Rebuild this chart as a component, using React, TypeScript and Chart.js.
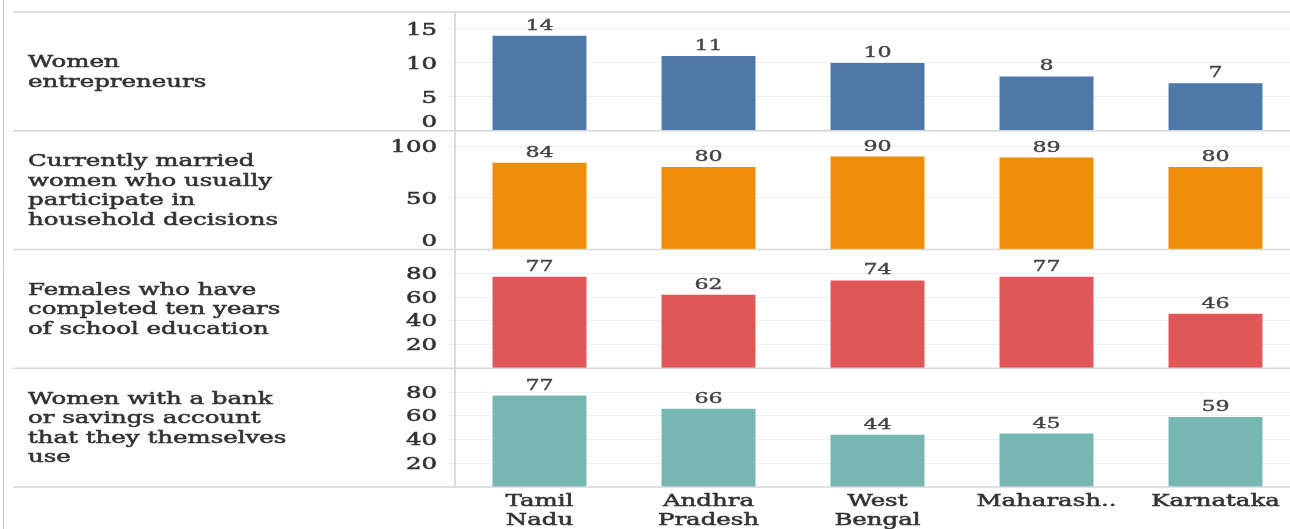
import React, { useEffect, useRef } from "react";
import { Chart, registerables } from "chart.js";
Chart.register(...registerables);

const categories = [["Tamil", "Nadu"], ["Andhra", "Pradesh"], ["West", "Bengal"], ["Maharash.."], ["Karnataka"]];
const rowTitles = [
  ["Women", "entrepreneurs"],
  ["Currently married", "women who usually", "participate in", "household decisions"],
  ["Females who have", "completed ten years", "of school education"],
  ["Women with a bank", "or savings account", "that they themselves", "use"],
];
const womenEntrepreneurs = [14, 11, 10, 8, 7];
const householdDecisions = [84, 80, 90, 89, 80];
const tenYearsSchooling = [77, 62, 74, 77, 46];
const bankAccount = [77, 66, 44, 45, 59];
const row1Ticks = [0, 5, 10, 15];
const row2Ticks = [0, 50, 100];
const row3Ticks = [20, 40, 60, 80];
const row4Ticks = [20, 40, 60, 80];
const axisMax = [17.5, 115, 100, 100];
const colors = ["#4E79A7", "#EE8D08", "#E15759", "#76B7B2"];

const FONT = '"DejaVu Serif", "Liberation Serif", serif';

function drawText(ctx: CanvasRenderingContext2D, text: string, x: number, y: number, align: CanvasTextAlign, font: string, sx: number, color: string, thick = 0) {
  ctx.save();
  ctx.font = font;
  ctx.fillStyle = color;
  ctx.strokeStyle = color;
  ctx.textAlign = align;
  ctx.textBaseline = "alphabetic";
  ctx.translate(x, y);
  ctx.scale(sx, 1);
  ctx.fillText(text, 0, 0);
  if (thick > 0) {
    ctx.lineWidth = thick;
    ctx.strokeText(text, 0, 0);
  }
  ctx.restore();
}

export default function App() {
  const ref = useRef<HTMLCanvasElement>(null);
  useEffect(() => {
    const rows = [womenEntrepreneurs, householdDecisions, tenYearsSchooling, bankAccount];
    const tickSets = [row1Ticks, row2Ticks, row3Ticks, row4Ticks];
    const scales: any = {
      x: {
        type: "category",
        offset: true,
        grid: { display: false },
        border: { display: false },
        ticks: { display: false },
        afterFit: (s: any) => { s.height = 42; },
      },
    };
    for (let i = rows.length - 1; i >= 0; i--) {
      scales["y" + i] = {
        type: "linear",
        position: "left",
        stack: "rows",
        stackWeight: 1,
        min: 0,
        max: axisMax[i],
        afterBuildTicks: (s: any) => { s.ticks = tickSets[i].map((v) => ({ value: v })); },
        ticks: { display: false },
        grid: { color: "#eeeeee", lineWidth: 1, drawTicks: true, tickLength: 8 },
        border: { display: false },
        afterFit: (s: any) => { s.width = 10; },
      };
    }

    const overlay = {
      id: "overlay",
      afterDraw(chart: any) {
        const ctx: CanvasRenderingContext2D = chart.ctx;
        const labelFont = `16px ${FONT}`;
        const dataFont = `14.5px ${FONT}`;
        ctx.save();
        ctx.font = labelFont;
        const sx = 250 / ctx.measureText("household decisions").width;
        ctx.restore();
        const area = chart.chartArea;
        const W = chart.width;
        // borders
        ctx.save();
        ctx.strokeStyle = "#c8c8c8";
        ctx.lineWidth = 1;
        ctx.beginPath();
        ctx.moveTo(3.5, 0);
        ctx.lineTo(3.5, chart.height);
        ctx.stroke();
        ctx.strokeStyle = "#d6d6d6";
        ctx.lineWidth = 1.5;
        for (let i = 0; i < rows.length; i++) {
          const s = chart.scales["y" + i];
          ctx.beginPath();
          ctx.moveTo(13, s.top);
          ctx.lineTo(W, s.top);
          ctx.stroke();
          if (i === rows.length - 1) {
            ctx.beginPath();
            ctx.moveTo(13, s.bottom);
            ctx.lineTo(W, s.bottom);
            ctx.stroke();
          }
        }
        ctx.strokeStyle = "#dcdcdc";
        ctx.lineWidth = 2;
        ctx.beginPath();
        ctx.moveTo(area.left, area.top);
        ctx.lineTo(area.left, area.bottom);
        ctx.stroke();
        ctx.restore();

        for (let i = 0; i < rows.length; i++) {
          const s = chart.scales["y" + i];
          // row titles
          const c = (s.top + s.bottom) / 2;
          const lines = rowTitles[i];
          lines.forEach((t, k) => {
            const y = c + (k - (lines.length - 1) / 2) * 19.5 + 5.5;
            drawText(ctx, t, 28, y, "left", labelFont, sx, "#333333", 0.5);
          });
          // tick labels
          tickSets[i].forEach((v) => {
            let y = s.getPixelForValue(v);
            y = Math.min(y, s.bottom - 9);
            drawText(ctx, String(v), 437, y + 5.7, "right", labelFont, sx, "#333333", 0.5);
          });
          // data labels
          const meta = chart.getDatasetMeta(i);
          meta.data.forEach((bar: any, j: number) => {
            drawText(ctx, String(rows[i][j]), bar.x, bar.y - 6, "center", dataFont, sx, "#444444", 0.35);
          });
        }
        // x labels
        const xs = chart.scales.x;
        categories.forEach((lines, j) => {
          const x = xs.getPixelForValue(j);
          lines.forEach((t, k) => {
            drawText(ctx, t, x, area.bottom + 19 + k * 19, "center", labelFont, sx, "#333333", 0.5);
          });
        });
      },
    };

    const chart = new Chart(ref.current as HTMLCanvasElement, {
      type: "bar",
      data: {
        labels: categories.map((c) => c.join(" ")),
        datasets: rows.map((r, i) => ({
          data: r,
          yAxisID: "y" + i,
          backgroundColor: colors[i],
          borderWidth: 0,
          grouped: false,
          barPercentage: 0.556,
          categoryPercentage: 1,
        })),
      } as any,
      options: {
        responsive: false,
        animation: false,
        devicePixelRatio: 1,
        layout: { padding: { left: 445, top: 12, right: 0, bottom: 0 } },
        plugins: { legend: { display: false }, tooltip: { enabled: false } },
        scales,
      } as any,
      plugins: [overlay],
    });
    return () => chart.destroy();
  }, []);

  return (
    <div style={{ position: "absolute", left: 0, top: 0, width: 1290, height: 529, overflow: "hidden", background: "#ffffff" }}>
      <canvas ref={ref} width={1300} height={529} style={{ display: "block", width: 1300, height: 529 }} />
    </div>
  );
}
